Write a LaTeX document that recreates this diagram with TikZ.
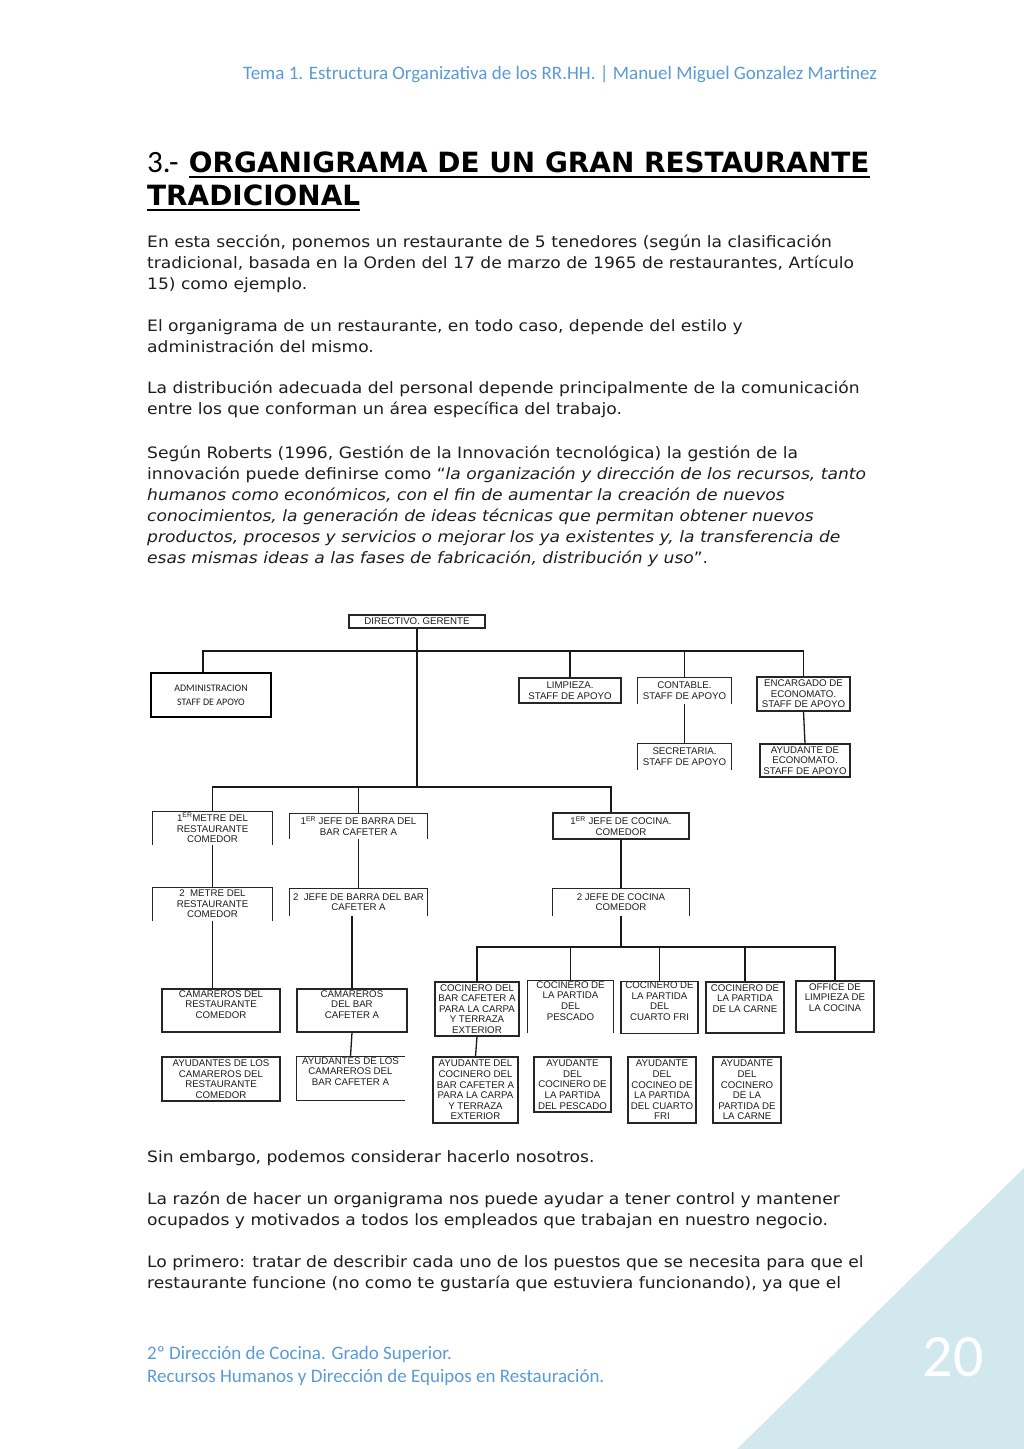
\documentclass[tikz,border=0pt]{standalone}
\usepackage{fontspec}
\usepackage{tikz}
\newfontfamily\cuerpo[FakeStretch=1.09]{DejaVu Sans}
\newfontfamily\negrita{DejaVu Sans}
\newfontfamily\cali{Carlito}
\newfontfamily\arial{Liberation Sans}
\definecolor{azul}{HTML}{5B9BD5}
\definecolor{celeste}{HTML}{D2E8EF}
\definecolor{tinta}{HTML}{1E1E1E}
\tikzset{
  caja/.style={draw=black!85,line width=1.1pt,inner sep=0pt,align=center,font=\arial\fontsize{9.7}{10.6}\selectfont,text=tinta},
  abierta/.style={caja,draw=none},
  borde/.style={black!85,line width=1.1pt},
  linea/.style={black!90,line width=1.3pt},
  tam/.style 2 args={minimum width=#1pt,minimum height=#2pt},
  texto/.style={anchor=base west,inner sep=0pt,font=\cuerpo\fontsize{15.7}{21}\selectfont,text=tinta},
  cabecera/.style={anchor=base west,inner sep=0pt,font=\cali\fontsize{19}{21}\selectfont,text=azul},
  titulo/.style={anchor=base west,inner sep=0pt,font=\negrita\bfseries\fontsize{27.9}{33}\selectfont,text=black},
}

\begin{document}
\begin{tikzpicture}[x=1pt,y=-1pt]
  \useasboundingbox (0,0) rectangle (1024,1449);
  \fill[white] (0,0) rectangle (1024,1449);
  \fill[celeste] (737,1449) -- (1024,1449) -- (1024,1168) -- cycle;

  \node[cabecera] (cab) at (243,79) {Tema 1. Estructura Organizativa de los RR.HH. | Manuel Miguel Gonzalez Martinez};

  \node[titulo,font=\cali\fontsize{31}{33}\selectfont] (t0) at (147,172) {3.-};
  \node[titulo] (t1) at ([xshift=10pt]t0.base east) {ORGANIGRAMA DE UN GRAN RESTAURANTE};
  \node[titulo] (t2) at (147,205) {TRADICIONAL};
  \draw[line width=1.8pt] ([yshift=-5pt]t1.base west) -- ([yshift=-5pt]t1.base east);
  \draw[line width=1.8pt] ([yshift=-5pt]t2.base west) -- ([yshift=-5pt]t2.base east);

  \foreach \y/\linea in {
    247/{En esta sección, ponemos un restaurante de 5 tenedores (según la clasificación},
    268/{tradicional, basada en la Orden del 17 de marzo de 1965 de restaurantes, Artículo},
    289/{15) como ejemplo.},
    331/{El organigrama de un restaurante, en todo caso, depende del estilo y},
    352/{administración del mismo.},
    393/{La distribución adecuada del personal depende principalmente de la comunicación},
    414/{entre los que conforman un área específica del trabajo.},
    458/{Según Roberts (1996, Gestión de la Innovación tecnológica) la gestión de la},
    479/{innovación puede definirse como “\textit{la organización y dirección de los recursos, tanto}},
    500/{\textit{humanos como económicos, con el fin de aumentar la creación de nuevos}},
    521/{\textit{conocimientos, la generación de ideas técnicas que permitan obtener nuevos}},
    542/{\textit{productos, procesos y servicios o mejorar los ya existentes y, la transferencia de}},
    563/{\textit{esas mismas ideas a las fases de fabricación, distribución y uso}”.},
    1162/{Sin embargo, podemos considerar hacerlo nosotros.},
    1204/{La razón de hacer un organigrama nos puede ayudar a tener control y mantener},
    1225/{ocupados y motivados a todos los empleados que trabajan en nuestro negocio.},
    1267/{Lo primero: tratar de describir cada uno de los puestos que se necesita para que el},
    1288/{restaurante funcione (no como te gustaría que estuviera funcionando), ya que el}}
    \node[texto] (p\y) at (147,\y) {\linea};

  % organigrama
  \node[caja,tam={136}{13}] (ger) at (417,621.5) {DIRECTIVO. GERENTE};
  \node[caja,tam={120}{44},line width=1.6pt,draw=black,font=\cali\fontsize{10}{14}\selectfont] (adm) at (211,695) {ADMINISTRACION\\STAFF DE APOYO};
  \node[caja,tam={102}{25}] (lim) at (570,690.5) {LIMPIEZA.\\STAFF DE APOYO};
  \node[abierta,tam={93}{25}] (con) at (684.5,690.5) {CONTABLE.\\STAFF DE APOYO};
  \node[caja,tam={93}{34}] (enc) at (803.5,694) {ENCARGADO DE\\ECONOMATO.\\STAFF DE APOYO};
  \node[abierta,tam={93}{25}] (sec) at (684.5,756.5) {SECRETARIA.\\STAFF DE APOYO};
  \node[caja,tam={90}{33}] (aye) at (805,760.5) {AYUDANTE DE\\ECONOMATO.\\STAFF DE APOYO};

  \node[abierta,tam={119}{32}] (me1) at (212.5,828) {1\textsuperscript{ER}METRE DEL\\RESTAURANTE\\COMEDOR};
  \node[abierta,tam={137}{24}] (jb1) at (358.5,826) {1\textsuperscript{ER}\ JEFE DE BARRA DEL\\BAR CAFETER A};
  \node[caja,tam={136}{26}] (jc1) at (621,826) {1\textsuperscript{ER}\ JEFE DE COCINA.\\COMEDOR};
  \node[abierta,tam={119}{32}] (me2) at (212.5,904) {2\ \ METRE DEL\\RESTAURANTE\\COMEDOR};
  \node[abierta,tam={137}{26}] (jb2) at (358.5,902) {2\ \ JEFE DE BARRA DEL BAR\\CAFETER A};
  \node[abierta,tam={136}{26}] (jc2) at (621,902) {2 JEFE DE COCINA\\COMEDOR};

  \node[caja,tam={118}{43}] (cre) at (221,1010.5) {CAMAREROS DEL\\RESTAURANTE\\COMEDOR\\[2pt]};
  \node[caja,tam={110}{43}] (cba) at (352,1010.5) {CAMAREROS\\DEL BAR\\CAFETER A\\[2pt]};
  \node[caja,tam={118}{44}] (are) at (221,1079) {AYUDANTES DE LOS\\CAMAREROS DEL\\RESTAURANTE\\COMEDOR};
  \node[abierta,tam={107}{43}] (aba) at (350.5,1078.5) {AYUDANTES DE LOS\\CAMAREROS DEL\\BAR CAFETER A\\[4pt]};

  \node[caja,tam={84}{54}] (co1) at (477,1009) {COCINERO DEL\\BAR CAFETER A\\PARA LA CARPA\\Y TERRAZA\\EXTERIOR};
  \node[abierta,tam={85}{50}] (co2) at (570.5,1007) {COCINERO DE\\LA PARTIDA\\DEL\\PESCADO\\[2pt]};
  \node[caja,tam={77}{51}] (co3) at (659.5,1007.5) {COCINERO DE\\LA PARTIDA\\DEL\\CUARTO FRI\\[2pt]};
  \node[caja,tam={78}{51}] (co4) at (745,1007.5) {COCINERO DE\\LA PARTIDA\\DE LA CARNE\\[8pt]};
  \node[caja,tam={78}{51}] (off) at (835,1006.5) {OFFICE DE\\LIMPIEZA DE\\LA COCINA\\[8pt]};

  \node[caja,tam={85}{66}] (ay1) at (475.5,1090) {AYUDANTE DEL\\COCINERO DEL\\BAR CAFETER A\\PARA LA CARPA\\Y TERRAZA\\EXTERIOR};
  \node[caja,tam={77}{55}] (ay2) at (572.5,1084.5) {AYUDANTE\\DEL\\COCINERO DE\\LA PARTIDA\\DEL PESCADO};
  \node[caja,tam={68}{66}] (ay3) at (662,1090) {AYUDANTE\\DEL\\COCINEO DE\\LA PARTIDA\\DEL CUARTO\\FRI};
  \node[caja,tam={68}{66}] (ay4) at (747,1090) {AYUDANTE\\DEL\\COCINERO\\DE LA\\PARTIDA DE\\LA CARNE};

  \foreach \n in {con,sec,me1,jb1,me2,jb2,jc2,co2}
    \draw[borde] (\n.south west) |- (\n.north east) -- (\n.south east);
  \draw[borde] (aba.north east) -| (aba.south west) -- (aba.south east);

  \coordinate (bs) at (0,651);
  \coordinate (bm) at (0,787);
  \coordinate (bc) at (0,947);
  \coordinate (jcx) at ([xshift=-10pt]jc1.north);
  \draw[linea] ([xshift=-8pt]adm.north) |- (bs -| enc.north) -- (enc.north);
  \draw[linea] (lim.north) -- (lim.north |- bs);
  \draw[linea] (con.north) -- (con.north |- bs);
  \draw[linea] (con.south) -- (sec.north);
  \draw[linea] (enc.south) -- (aye.north);
  \draw[linea] (ger.south) -- (ger.south |- bm);
  \draw[linea] (me1.north) |- (bm -| jcx) -- (jcx);
  \draw[linea] (jb1.north) -- (jb1.north |- bm);
  \draw[linea] (me1.south) -- (me2.north);
  \draw[linea] (jb1.south) -- (jb2.north);
  \draw[linea] (jc1.south) -- (jc2.north);
  \draw[linea] (me2.south) -- (me2.south |- cre.north);
  \draw[linea] (cba.north |- jb2.south) -- (cba.north);
  \draw[linea] (cba.south) -- (aba.north);
  \draw[linea] (jc2.south) -- (jc2.south |- bc);
  \draw[linea] (co1.north) |- (bc -| off.north) -- (off.north);
  \foreach \n in {co2,co3,co4}
    \draw[linea] (\n.north) -- (\n.north |- bc);
  \draw[linea] (co1.south) -- (ay1.north);

  \node[cabecera] (pie1) at (147,1359) {2º Dirección de Cocina. Grado Superior.};
  \node[cabecera] (pie2) at (147,1382) {Recursos Humanos y Dirección de Equipos en Restauración.};
  \node[font=\cali\fontsize{60}{60}\selectfont,text=white] (pag) at (953,1357) {20};
\end{tikzpicture}
\end{document}
